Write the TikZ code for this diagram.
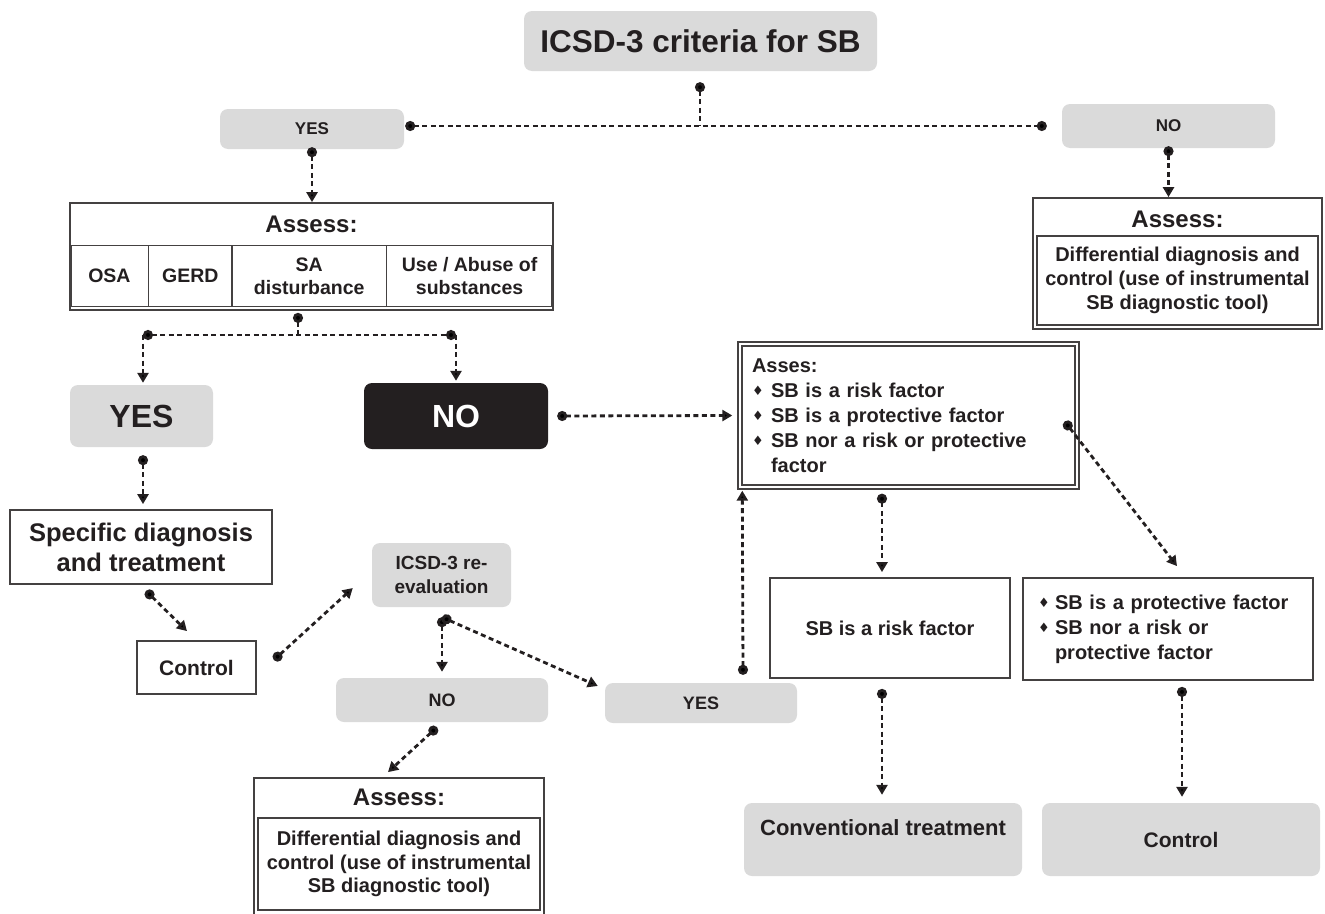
\documentclass[tikz,border=0pt]{standalone}
\usepackage{fontspec}
\setmainfont{Liberation Sans}
\newfontfamily\symfont{DejaVu Sans}
\usetikzlibrary{arrows.meta,
                positioning,
                shapes}
\definecolor{boxgray}{RGB}{218,218,218}
\definecolor{ink}{RGB}{35,31,32}
\newcommand{\fsz}[2]{\fontsize{#1}{#2}\selectfont\bfseries}
\newcommand{\cell}[2]{\parbox{#1pt}{\centering\fsz{19.5}{23}#2}}
\newcommand{\bul}[1]{\makebox[#1pt][l]{\symfont\fontsize{13}{13}\selectfont\raisebox{1.5pt}{♦}}}
\tikzset{graybox/.style=
   {rectangle,
    fill=boxgray,
    rounded corners=8pt,
    text=ink,
    align=center,
    inner sep=0pt}}
\tikzset{whitebox/.style=
   {rectangle,
    draw=ink!85,
    line width=1.8pt,
    fill=white,
    text=ink,
    align=center,
    inner sep=0pt}}
\tikzset{doublebox/.style=
   {whitebox,
    line width=1.4pt,
    double,
    double distance=2.5pt}}
\tikzset{cellrow/.style =
   {rectangle split,
    rectangle split parts=4,
    rectangle split horizontal,
    draw=ink!85,
    line width=1.4pt,
    text=ink,
    inner sep=0pt,
    minimum height=61pt}}
\tikzset{dash line/.style = {draw=ink, line width=2.8pt, dash pattern=on 5pt off 3.5pt}}
\tikzset{link/.style = {dash line, {Circle[length=10pt]}-{Triangle[length=10pt,width=11pt]}}}
\tikzset{drop/.style = {dash line, -{Triangle[length=10pt,width=11pt]}}}
\tikzset{stem/.style = {dash line, {Circle[length=10pt]}-}}
\tikzset{bar/.style = {dash line, {Circle[length=10pt]}-{Circle[length=10pt]}}}

\begin{document}
\begin{tikzpicture}[x=1pt, y=-1pt]
    \useasboundingbox (0,0) rectangle (1325,913);

    % criteria and first answer
    \node [graybox, minimum width=353pt, minimum height=60pt,
           font=\fsz{31.5}{36}] (title) at (700.5,41) {ICSD-3 criteria for SB};
    \node [graybox, minimum width=184pt, minimum height=40pt,
           font=\fsz{17}{20}] (yes1) at (312,129) {YES};
    \node [graybox, minimum width=213pt, minimum height=44pt,
           font=\fsz{17}{20}] (no1) at (1168.5,126) {NO};

    % assess boxes
    \node [whitebox, minimum width=483pt, minimum height=107pt] (assessL) at (311.5,256.5) {};
    \node [text=ink, font=\fsz{24}{28}] (assessLhead) at (311.5,224) {Assess:};
    \node [cellrow] (assessLcells) at (311.5,276)
    {\nodepart{one}   {\cell{77}{OSA}}
     \nodepart{two}   {\cell{82}{GERD}}
     \nodepart{three} {\cell{153}{SA\\disturbance}}
     \nodepart{four}  {\cell{165}{Use / Abuse of\\substances}}};

    \node [whitebox, minimum width=289pt, minimum height=131pt] (assessR) at (1177.5,263.5) {};
    \node [text=ink, font=\fsz{24}{28}] (assessRhead) at (1177.5,219) {Assess:};
    \node [whitebox, minimum width=281pt, minimum height=89pt,
           font=\fsz{20}{24}] (assessRtext) at (1177.5,280.5)
    {Differential diagnosis and\\control (use of instrumental\\SB diagnostic tool)};

    % second answer
    \node [graybox, minimum width=143pt, minimum height=62pt,
           font=\fsz{32}{36}] (yes2) at (141.5,416) {YES};
    \node [graybox, fill=ink, text=white, minimum width=184pt, minimum height=66pt,
           font=\fsz{32}{36}] (no2) at (456,416) {NO};

    \node [doublebox, minimum width=337pt, minimum height=143pt,
           inner xsep=12pt, text width=313pt, align=left,
           font=\fsz{20}{25}] (asses) at (908.5,415.5)
    {Asses:\\
     \bul{19}SB is a risk factor\\
     \bul{19}SB is a protective factor\\
     \bul{19}SB nor a risk or protective\\
     \hspace*{19pt}factor};

    \node [whitebox, minimum width=262pt, minimum height=74pt,
           font=\fsz{25.5}{30}] (specific) at (141,547) {Specific diagnosis\\and treatment};
    \node [whitebox, minimum width=119pt, minimum height=53pt,
           font=\fsz{21}{25}] (controlL) at (196.5,667.5) {Control};
    \node [graybox, minimum width=139pt, minimum height=64pt,
           font=\fsz{19}{24}] (reeval) at (441.5,575) {ICSD-3 re-\\evaluation};
    \node [graybox, minimum width=212pt, minimum height=44pt,
           font=\fsz{18}{22}] (noL) at (442,700) {NO};
    \node [graybox, minimum width=192pt, minimum height=40pt,
           font=\fsz{18}{22}] (yesR) at (701,703) {YES};

    \node [whitebox, minimum width=290pt, minimum height=140pt] (assessB) at (399,848) {};
    \node [text=ink, font=\fsz{24}{28}] (assessBhead) at (399,797) {Assess:};
    \node [whitebox, minimum width=282pt, minimum height=92pt,
           font=\fsz{20}{23.5}] (assessBtext) at (399,864)
    {Differential diagnosis and\\control (use of instrumental\\SB diagnostic tool)};

    \node [whitebox, minimum width=240pt, minimum height=100pt,
           font=\fsz{20}{24}] (risk) at (890,628) {SB is a risk factor};
    \node [whitebox, minimum width=290pt, minimum height=102pt,
           inner xsep=15pt, text width=260pt, align=left,
           font=\fsz{20}{25}] (prot) at (1168,629)
    {\bul{17}SB is a protective factor\\
     \bul{17}SB nor a risk or\\
     \hspace*{17pt}protective factor};

    \node [graybox, minimum width=278pt, minimum height=73pt,
           label={[yshift=12pt, text=ink, font=\fsz{22}{26}]center:Conventional treatment}] (conv) at (883,839.5) {};
    \node [graybox, minimum width=278pt, minimum height=73pt,
           font=\fsz{21}{25}] (controlR) at (1181,839.5) {Control};

    % connectors
    \coordinate (split1) at (700,126);
    \coordinate (split2) at (298,335);
    \coordinate (toYes) at (143,335);
    \coordinate (toNo) at (456,335);

    \draw [stem] ([shift={(-0.5,11)}]title.south) -- (split1);
    \draw [bar] ([shift={(1,-3)}]yes1.east) -- ([shift={(-15,0)}]no1.west);
    \draw [link] ([shift={(0,-2)}]yes1.south) -- (yes1.south |- assessL.north);
    \draw [link] ([shift={(0,-2)}]no1.south) -- (no1.south |- assessR.north);

    \draw [stem] ([shift={(-13.5,2)}]assessL.south) -- (split2);
    \draw [bar] (toYes) -- (toNo);
    \draw [drop] (toYes) -- ([shift={(0,-2)}]toYes |- yes2.north);
    \draw [drop] (toNo) -- ([shift={(0,-2)}]toNo |- no2.north);

    \draw [link] ([shift={(9,0)}]no2.east) -- ([shift={(-7,0)}]asses.west);
    \draw [link] ([shift={(-13,6)}]asses.east) -- ([shift={(9,-11)}]prot.north);
    \draw [link] ([shift={(-26.5,6)}]asses.south) -- ([shift={(-8,-5)}]risk.north);

    \draw [link] ([shift={(1.5,8)}]yes2.south) -- ([shift={(2,-5)}]specific.north);
    \draw [link] ([shift={(5,6)}]specific.south) -- ([shift={(-9.5,-9)}]controlL.north);
    \draw [link] ([shift={(17,-7.5)}]controlL.east) -- ([shift={(-19,13)}]reeval.west);
    \draw [link] ([shift={(0.5,10)}]reeval.south) -- ([shift={(0,-6)}]noL.north);
    \draw [link] ([shift={(0.5,10)}]reeval.south) -- ([shift={(-7,-17)}]yesR.west);
    \draw [link] ([shift={(42,-8)}]yesR.north) -- ([shift={(3,3)}]asses.south west);
    \draw [link] ([shift={(-5,5)}]noL.south) -- ([shift={(-11,-5)}]assessB.north);

    \draw [link] ([shift={(-8,10)}]risk.south) -- ([shift={(-1,-8)}]conv.north);
    \draw [link] ([shift={(14,6)}]prot.south) -- ([shift={(1,-6)}]controlR.north);

\end{tikzpicture}
\end{document}
